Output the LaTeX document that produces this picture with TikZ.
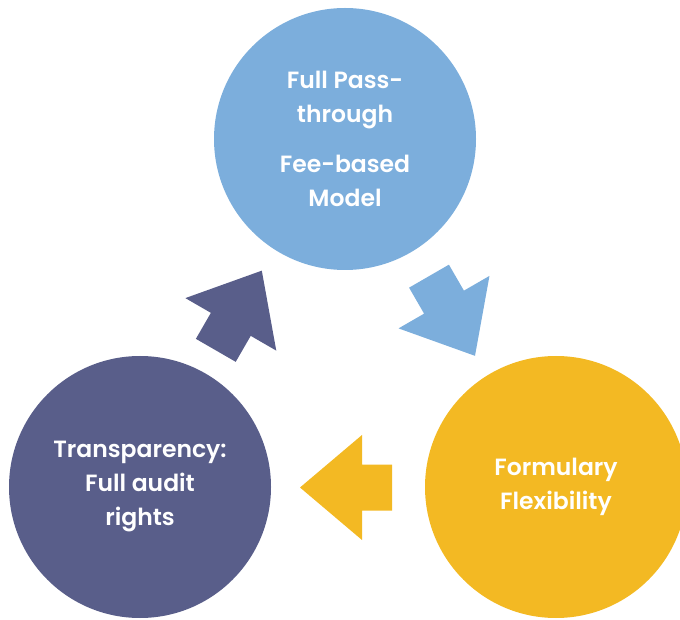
\documentclass[tikz,border=0pt]{standalone}
\usepackage{fontspec}
\setmainfont{Poppins}
\newfontfamily\stagefont{Poppins SemiBold}
\usepackage{tikz}

\definecolor{feeblue}{RGB}{124,174,220}
\definecolor{auditslate}{RGB}{89,94,138}
\definecolor{formgold}{RGB}{243,185,35}

\tikzset{
  stage/.style={circle,minimum size=262pt,inner sep=0pt,text=white,align=center,
    font=\stagefont\fontsize{23.5}{34}\selectfont}
}

\begin{document}
\begin{tikzpicture}[x=1pt,y=1pt]

%fix the page to the reference size
\useasboundingbox (0,0) rectangle (680,619);

%draw the three stages
\node[stage,fill=feeblue] (fee) at (345,480) {Full Pass-\\through\\[16pt]Fee-based\\Model};
\node[stage,fill=auditslate] (audit) at (140,132) {Transparency:\\Full audit\\rights};
\node[stage,fill=formgold] (form) at (556,132) {Formulary\\Flexibility};

%draw block arrows between the stages
\foreach \cx/\cy/\ang/\col in {452/303/-60/feeblue, 346/131.5/180/formgold, 238.8/308.5/60/auditslate}
	{
	\begin{scope}[shift={(\cx,\cy)},rotate=\ang]
	\fill[\col] (-46,-23)--(-16,-23)--(-16,-52.5)--(46,0)--(-16,52.5)--(-16,23)--(-46,23)--cycle;
	\end{scope}
	}

\end{tikzpicture}
\end{document}
